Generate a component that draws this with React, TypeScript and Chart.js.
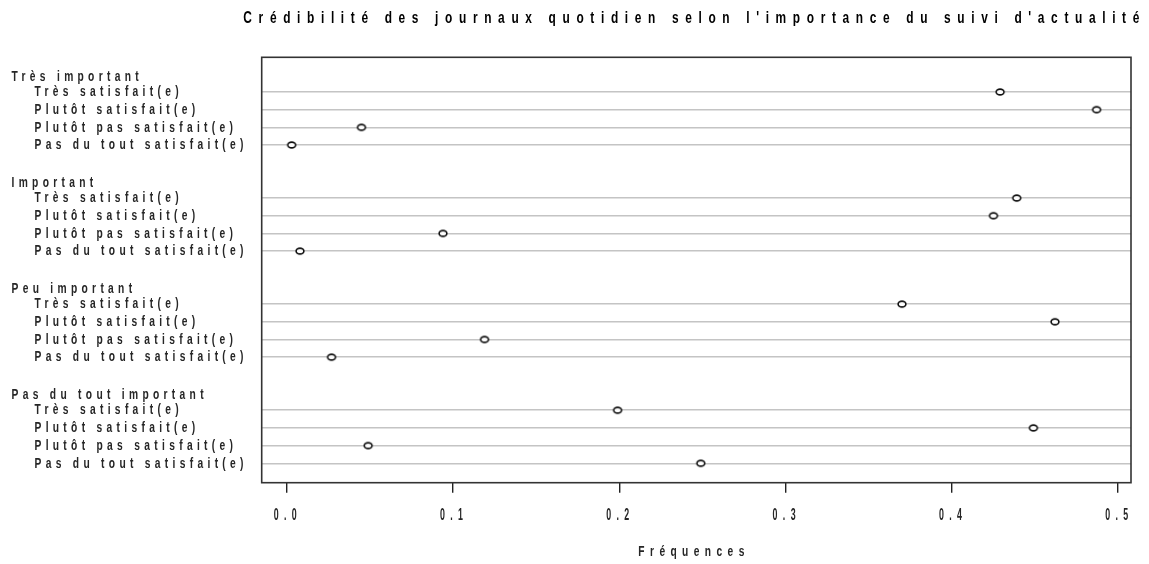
import { useEffect, useRef } from "react";
import { Chart, registerables } from "chart.js";

Chart.register(...registerables);

// ---------- data ----------
const chartTitle = "Crédibilité des journaux quotidien selon l'importance du suivi d'actualité";
const xAxisTitle = "Fréquences";
const groups = ["Très important", "Important", "Peu important", "Pas du tout important"];
const items = ["Très satisfait(e)", "Plutôt satisfait(e)", "Plutôt pas satisfait(e)", "Pas du tout satisfait(e)"];
const tresImportant = [0.429, 0.487, 0.045, 0.003];
const important = [0.439, 0.425, 0.094, 0.008];
const peuImportant = [0.37, 0.462, 0.119, 0.027];
const pasDuToutImportant = [0.199, 0.449, 0.049, 0.249];
const xTicks = [0, 0.1, 0.2, 0.3, 0.4, 0.5];
const xTickLabels = ["0.0", "0.1", "0.2", "0.3", "0.4", "0.5"];

const groupValues = [tresImportant, important, peuImportant, pasDuToutImportant];

// ---------- row layout (R dotchart style) ----------
const ROWS_PER_GROUP = items.length + 2;
const TOP_POS = groups.length * ROWS_PER_GROUP - 1;
const groupPos = (g: number) => TOP_POS - g * ROWS_PER_GROUP;
const itemPos = (g: number, i: number) => TOP_POS - g * ROWS_PER_GROUP - 1 - i;

const groupPositions = groups.map((_, g) => groupPos(g));
const allPositions: number[] = [];
groups.forEach((_, g) => {
  allPositions.push(groupPos(g));
  items.forEach((_, i) => allPositions.push(itemPos(g, i)));
});

// ---------- styles ----------
const FONT = '"Liberation Sans", Arial, Helvetica, sans-serif';
type TextStyle = { size: number; weight: string; sx: number; color: string; target: number; ref: string };
const titleStyle: TextStyle = { size: 17, weight: "bold", sx: 0.7, color: "#000", target: 896, ref: chartTitle };
const labelStyle: TextStyle = { size: 15.5, weight: "bold", sx: 0.66, color: "#262626", target: 209, ref: items[3] };
const tickStyle: TextStyle = { size: 17, weight: "bold", sx: 0.52, color: "#262626", target: 23, ref: "0.0" };
const axisTitleStyle: TextStyle = { size: 15, weight: "bold", sx: 0.68, color: "#262626", target: 106, ref: xAxisTitle };

function fontStr(st: TextStyle) {
  return `${st.weight} ${st.size}px ${FONT}`;
}

function spacingFor(ctx: any, st: TextStyle) {
  ctx.save();
  ctx.font = fontStr(st);
  ctx.letterSpacing = "0px";
  const w0 = ctx.measureText(st.ref).width;
  ctx.restore();
  const n = [...st.ref].length;
  return Math.max(0, (st.target / st.sx - w0) / (n - 1));
}

function drawSpaced(ctx: any, text: string, x: number, y: number, st: TextStyle, align: "left" | "center") {
  const spacing = spacingFor(ctx, st);
  ctx.save();
  ctx.font = fontStr(st);
  ctx.letterSpacing = "0px";
  const w0 = ctx.measureText(text).width;
  const n = [...text].length;
  const drawnW = st.sx * (w0 + spacing * (n - 1));
  const left = align === "left" ? x : x - drawnW / 2;
  ctx.letterSpacing = spacing + "px";
  ctx.translate(left, y);
  ctx.scale(st.sx, 1);
  ctx.textAlign = "left";
  ctx.textBaseline = "middle";
  ctx.fillStyle = st.color;
  ctx.fillText(text, 0, 0);
  ctx.restore();
}

const framePlugin = {
  id: "frameBox",
  afterDraw(chart: any) {
    const { ctx, chartArea } = chart;
    ctx.save();
    ctx.strokeStyle = "#333";
    ctx.lineWidth = 1.6;
    ctx.strokeRect(chartArea.left, chartArea.top, chartArea.right - chartArea.left, chartArea.bottom - chartArea.top);
    ctx.restore();
  },
};

const textPlugin = {
  id: "rTexts",
  afterDraw(chart: any) {
    const { ctx, chartArea } = chart;
    const xs = chart.scales.x;
    const ys = chart.scales.y;
    const cx = (chartArea.left + chartArea.right) / 2 - 5;
    // title
    drawSpaced(ctx, chartTitle, cx, 18, titleStyle, "center");
    // y labels
    groups.forEach((g, gi) => {
      drawSpaced(ctx, g, 11.5, ys.getPixelForValue(groupPos(gi)) + 2, labelStyle, "left");
      items.forEach((it, i) => {
        drawSpaced(ctx, it, 34.5, ys.getPixelForValue(itemPos(gi, i)), labelStyle, "left");
      });
    });
    // x tick labels
    xTicks.forEach((v, i) => {
      drawSpaced(ctx, xTickLabels[i], xs.getPixelForValue(v) - 1.5, chartArea.bottom + 33, tickStyle, "center");
    });
    // x axis title
    drawSpaced(ctx, xAxisTitle, cx, chartArea.bottom + 69, axisTitleStyle, "center");
  },
};

function makeMarker() {
  const c = document.createElement("canvas");
  c.width = 12;
  c.height = 10;
  const g = c.getContext("2d")!;
  g.fillStyle = "#fff";
  g.strokeStyle = "#111";
  g.lineWidth = 1.6;
  g.beginPath();
  g.ellipse(6, 5, 3.9, 2.9, 0, 0, Math.PI * 2);
  g.fill();
  g.stroke();
  return c;
}

export default function App() {
  const ref = useRef<HTMLCanvasElement>(null);

  useEffect(() => {
    const canvas = ref.current;
    if (!canvas) return;
    const marker = makeMarker();
    const chart = new Chart(canvas, {
      type: "scatter",
      data: {
        datasets: groups.map((g, gi) => ({
          label: g,
          data: groupValues[gi].map((v, i) => ({ x: v, y: itemPos(gi, i) })),
          pointStyle: marker as any,
          pointRadius: 5,
          pointHoverRadius: 5,
          borderColor: "#111",
          backgroundColor: "#fff",
        })),
      },
      options: {
        animation: false,
        responsive: true,
        maintainAspectRatio: false,
        layout: { padding: { left: 261.7, right: 18, top: 57.3, bottom: 81.3 } },
        plugins: {
          legend: { display: false },
          tooltip: { enabled: false },
          title: { display: false },
        },
        scales: {
          x: {
            type: "linear",
            min: -0.015,
            max: 0.5077,
            afterBuildTicks: (scale: any) => {
              scale.ticks = xTicks.map((v) => ({ value: v }));
            },
            afterFit: (scale: any) => {
              scale.height = 0;
            },
            ticks: { display: false },
            border: { display: false },
            grid: {
              drawOnChartArea: false,
              drawTicks: true,
              tickLength: 10,
              color: "#222",
              lineWidth: 1.4,
            },
          },
          y: {
            type: "linear",
            min: -0.1,
            max: TOP_POS + 0.96,
            afterBuildTicks: (scale: any) => {
              scale.ticks = allPositions.map((v) => ({ value: v }));
            },
            afterFit: (scale: any) => {
              scale.width = 0;
            },
            ticks: { display: false },
            border: { display: false },
            grid: {
              drawTicks: false,
              lineWidth: 1.5,
              color: (c: any) =>
                c.tick && groupPositions.includes(c.tick.value) ? "rgba(0,0,0,0)" : "#c4c4c4",
            },
          },
        },
      },
      plugins: [framePlugin, textPlugin],
    });
    return () => chart.destroy();
  }, []);

  return (
    <div style={{ position: "fixed", left: 0, top: 0, width: 1149, height: 564, background: "#fff" }}>
      <canvas ref={ref} />
    </div>
  );
}
